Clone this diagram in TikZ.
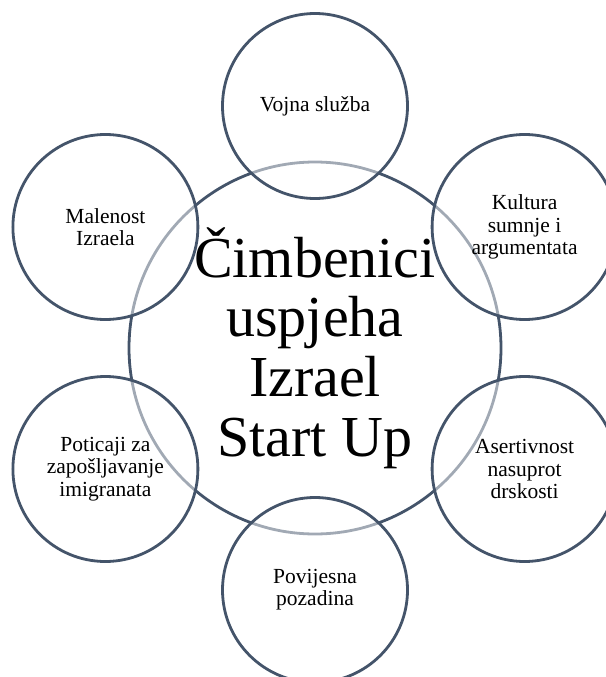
\documentclass[tikz,border=0pt]{standalone}
\usepackage{fontspec}
\setmainfont{Liberation Serif}
\definecolor{navy}{HTML}{44546A}
\begin{document}
\begin{tikzpicture}[x=1pt,y=-1pt,
  hub/.style={circle, draw=navy, line width=2.8pt, inner sep=0pt, minimum size=372pt},
  ring/.style={circle, draw=navy, line width=2.8pt, inner sep=0pt, minimum size=185pt,
    fill=white, fill opacity=0.5, text opacity=1, align=center,
    font=\fontsize{21.5}{22.3}\selectfont},
  big/.style={align=center, inner sep=0pt, font=\fontsize{58}{59.8}\selectfont}]
\useasboundingbox (0,0) rectangle (605,677);
\node[hub] (hub) at (315,348) {};
\node[ring] (r1) at (315,106) {Vojna služba};
\node[ring] (r2) at (524.6,227) {Kultura\\sumnje i\\argumentata};
\node[ring] (r3) at (524.6,469) {Asertivnost\\nasuprot\\drskosti};
\node[ring] (r4) at (315,590) {Povijesna\\pozadina};
\node[ring] (r5) at (105.4,469) {Poticaji za\\zapošljavanje\\imigranata};
\node[ring] (r6) at (105.4,227) {Malenost\\Izraela};
\node[big] (title) at (hub.center) {Čimbenici\\uspjeha\\Izrael\\Start Up};
\end{tikzpicture}
\end{document}
